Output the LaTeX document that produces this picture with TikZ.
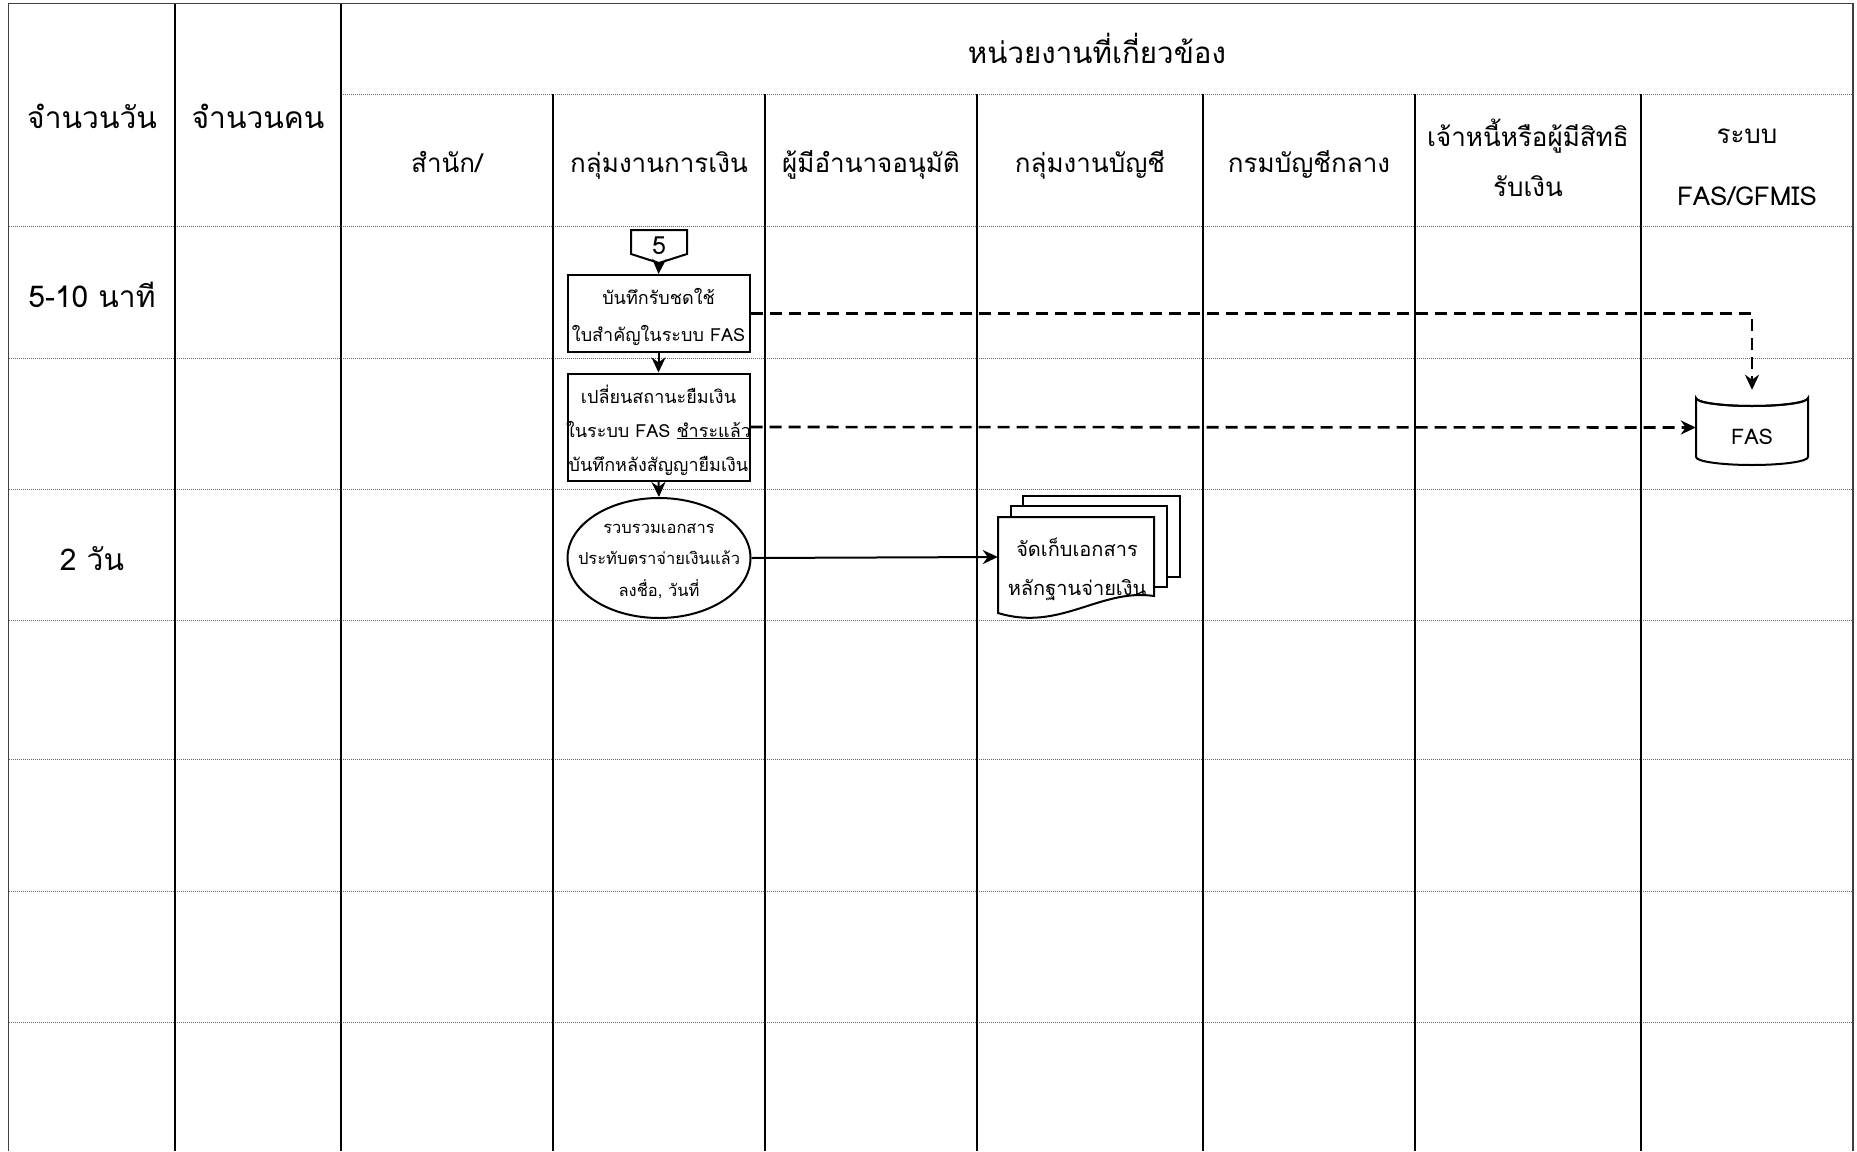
\documentclass[tikz,border=0pt]{standalone}
\usepackage{fontspec}
\setmainfont[Script=Thai]{Loma}
\usetikzlibrary{arrows.meta,shapes.geometric}
\begin{document}
\begin{tikzpicture}[x=1pt,y=-1pt,
  colline/.style={line width=2.6pt},
  gridline/.style={line width=1pt, black!60, dash pattern=on 1pt off 1pt},
  border/.style={line width=1.6pt, black!75},
  shapeline/.style={draw, line width=2pt, fill=white},
  arr/.style={line width=2pt, -{Stealth[length=15pt,width=14pt]}},
  darr/.style={line width=2.6pt, dash pattern=on 12pt off 7pt, -{Stealth[length=15pt,width=14pt]}},
  titlefont/.style={font=\fontsize{29.5}{34}\selectfont},
  bigfont/.style={font=\fontsize{30}{34}\selectfont},
  hdrfont/.style={font=\fontsize{26}{30}\selectfont},
  boxfont/.style={font=\fontsize{18}{21}\selectfont},
  smallfont/.style={font=\fontsize{16.5}{19}\selectfont},
  docfont/.style={font=\fontsize{20}{23}\selectfont},
  lbl/.style={inner sep=0pt, anchor=base}
]
\useasboundingbox (0,0) rectangle (1857,1151);
% grid
\foreach \yy in {226,358,489.5,620.5,759,891,1022.5}
  \draw[gridline] (8.5,\yy) -- (1853,\yy);
\draw[gridline] (341,94) -- (1853,94);
\draw[border] (8.5,1151) -- (8.5,3.5) -- (1853,3.5) -- (1853,1151);
\draw[colline] (175,3.5) -- (175,1151);
\draw[colline] (341,3.5) -- (341,1151);
\foreach \xx in {553,765,977,1203,1415,1641}
  \draw[colline] (\xx,94) -- (\xx,1151);

% header texts
\node[lbl,titlefont] (title) at (1097,63) {หน่วยงานที่เกี่ยวข้อง};
\node[lbl,bigfont] (days) at (92,128) {จำนวนวัน};
\node[lbl,bigfont] (people) at (258,128) {จำนวนคน};
\node[lbl,hdrfont] (h1) at (447,172) {สำนัก/};
\node[lbl,hdrfont] (h2) at (659,172) {กลุ่มงานการเงิน};
\node[lbl,hdrfont] (h3) at (871,172) {ผู้มีอำนาจอนุมัติ};
\node[lbl,hdrfont] (h4) at (1090,172) {กลุ่มงานบัญชี};
\node[lbl,hdrfont] (h5) at (1309,172) {กรมบัญชีกลาง};
\node[lbl,hdrfont] (h6a) at (1528,146) {เจ้าหนี้หรือผู้มีสิทธิ};
\node[lbl,hdrfont] (h6b) at (1528,196) {รับเงิน};
\node[lbl,hdrfont] (h7a) at (1747,143) {ระบบ};
\node[lbl,hdrfont] (h7b) at (1747,205) {FAS/GFMIS};

% row labels
\node[lbl,bigfont] (r1) at (92,307) {5-10 นาที};
\node[lbl,bigfont] (r2) at (92,570) {2 วัน};

% off-page connector 5
\draw[shapeline] (631,230) -- (687,230) -- (687,254) -- (659,263) -- (631,254) -- cycle;
\node[lbl,font=\fontsize{25}{28}\selectfont] (c5) at (659,254) {5};
\coordinate (c5tip) at (659,263);

% process boxes
\node[shapeline, minimum width=182pt, minimum height=77pt, inner sep=0pt] (b1) at (658.5,313.5) {};
\node[lbl,boxfont] (b1a) at (658.5,304) {บันทึกรับชดใช้};
\node[lbl,boxfont] (b1b) at (658.5,341) {ใบสำคัญในระบบ FAS};

\node[shapeline, minimum width=182pt, minimum height=107pt, inner sep=0pt] (b2) at (658.5,427) {};
\node[lbl,boxfont] (b2a) at (658.5,403) {เปลี่ยนสถานะยืมเงิน};
\node[lbl,boxfont] (b2b) at (658.5,437) {ในระบบ FAS \underline{ชำระแล้ว}};
\node[lbl,boxfont] (b2c) at (658.5,471) {บันทึกหลังสัญญายืมเงิน};

% ellipse
\node[shapeline, ellipse, minimum width=183pt, minimum height=120pt, inner sep=0pt] (e1) at (659,558) {};
\node[lbl,smallfont] (e1a) at (659,533) {รวบรวมเอกสาร};
\node[lbl,smallfont] (e1b) at (659,564) {ประทับตราจ่ายเงินแล้ว};
\node[lbl,smallfont] (e1c) at (659,596) {ลงชื่อ, วันที่};

% multi-document
\draw[shapeline] (1023,496) rectangle (1180,577);
\draw[shapeline] (1011,506) rectangle (1167,587);
\draw[shapeline] (998,613) -- (998,517) -- (1154,517) -- (1154,596)
   .. controls (1100,588) and (1060,632) .. (998,613) -- cycle;
\node[minimum width=156pt, minimum height=96pt, inner sep=0pt] (doc) at (1076,557) {};
\node[lbl,docfont] (da) at (1077,556) {จัดเก็บเอกสาร};
\node[lbl,docfont] (db) at (1077,595) {หลักฐานจ่ายเงิน};

% database cylinder
\draw[shapeline] (1696,398) -- (1696,457) arc[start angle=180, end angle=360, x radius=56, y radius=-8]
   -- (1808,398) arc[start angle=0, end angle=-180, x radius=56, y radius=-8] -- cycle;
\draw[line width=2pt] (1696,398) arc[start angle=180, end angle=360, x radius=56, y radius=-8];
\node[minimum width=112pt, minimum height=75pt, inner sep=0pt] (fas) at (1752,427.5) {};
\node[lbl,font=\fontsize{21.5}{24}\selectfont] (fast) at (1752,444) {FAS};

% connectors
\draw[arr] (c5tip) -- (b1.north);
\draw[arr] (b1.south) -- (b2.north);
\draw[arr] (b2.south) -- (e1.north);
\draw[arr] (e1.east) -- (doc.west);
\draw[darr] (b1.east) -| (fas.north);
\draw[darr] (b2.east) -- (fas.west);
\end{tikzpicture}
\end{document}
